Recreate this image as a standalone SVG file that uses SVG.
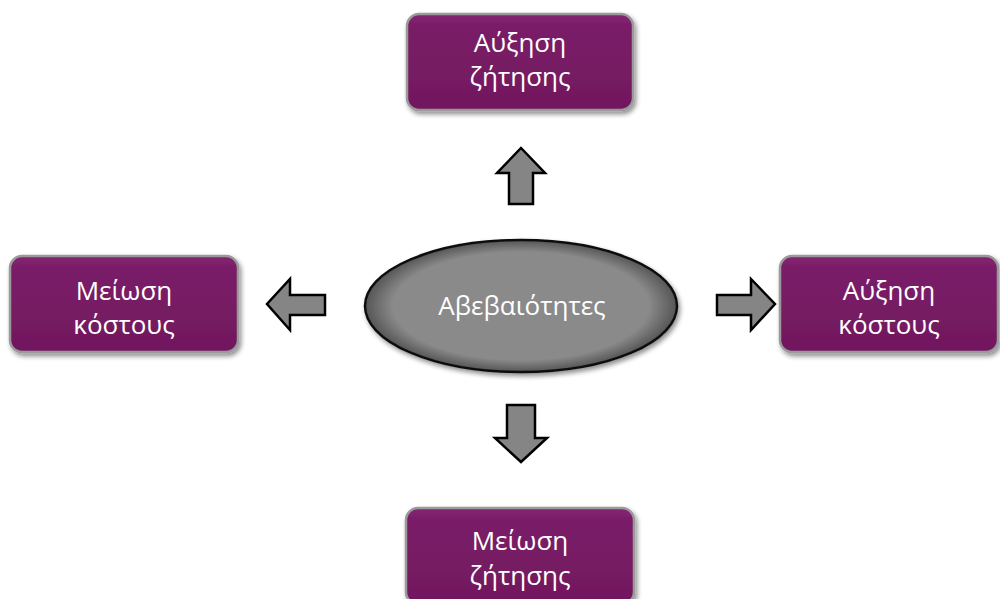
<svg xmlns="http://www.w3.org/2000/svg" width="1000" height="599" viewBox="0 0 1000 599">
<defs>
<linearGradient id="boxg" x1="0" y1="0" x2="0" y2="1">
<stop offset="0" stop-color="#862673"/>
<stop offset="0.12" stop-color="#7a1d68"/>
<stop offset="1" stop-color="#72185f"/>
</linearGradient>
<radialGradient id="ellg" cx="0.5" cy="0.5" r="0.5">
<stop offset="0.82" stop-color="#8a8a8a"/>
<stop offset="1" stop-color="#555"/>
</radialGradient>
<filter id="sh" x="-10%" y="-10%" width="125%" height="130%">
<feGaussianBlur in="SourceAlpha" stdDeviation="2.5"/>
<feOffset dx="2" dy="3" result="b"/>
<feComponentTransfer><feFuncA type="linear" slope="0.45"/></feComponentTransfer>
<feMerge><feMergeNode/><feMergeNode in="SourceGraphic"/></feMerge>
</filter>
</defs>
<style>
.box{fill:url(#boxg);stroke:#9a9a9a;stroke-width:2.5;filter:url(#sh)}
.ell{fill:url(#ellg);stroke:#111;stroke-width:2.5;filter:url(#sh)}
.arr{fill:#858585;stroke:#000;stroke-width:2.5;stroke-linejoin:miter}
.t{font-family:"Open Sans","Noto Sans","DejaVu Sans",sans-serif;font-size:26px;fill:#fff;text-anchor:middle}
</style>
<g id="connectors">
<polygon class="arr" points="509,204 533,204 533,173 545,173 521,148 497,173 509,173"/>
<polygon class="arr" points="507,405 535,405 535,438 547,438 521,462 495,438 507,438"/>
<polygon class="arr" points="325,295 325,315 290,315 290,330 267,304 290,279 290,295"/>
<polygon class="arr" points="717,295 717,315 751,315 751,330 775,304 751,279 751,295"/>
</g>
<g id="center">
<ellipse class="ell" cx="521" cy="306" rx="156" ry="66"/>
<text class="t" x="522" y="315">Αβεβαιότητες</text>
</g>
<g id="top">
<rect class="box" x="407" y="14" width="226" height="96" rx="12"/>
<text class="t" x="520" y="52">Αύξηση</text>
<text class="t" x="520" y="86">ζήτησης</text>
</g>
<g id="left">
<rect class="box" x="10" y="256" width="228" height="96" rx="12"/>
<text class="t" x="124" y="300">Μείωση</text>
<text class="t" x="124" y="334">κόστους</text>
</g>
<g id="right">
<rect class="box" x="780" y="256" width="218" height="96" rx="12"/>
<text class="t" x="889" y="300">Αύξηση</text>
<text class="t" x="889" y="334">κόστους</text>
</g>
<g id="bottom">
<rect class="box" x="406" y="508" width="228" height="96" rx="12"/>
<text class="t" x="520" y="550">Μείωση</text>
<text class="t" x="520" y="585">ζήτησης</text>
</g>
</svg>
